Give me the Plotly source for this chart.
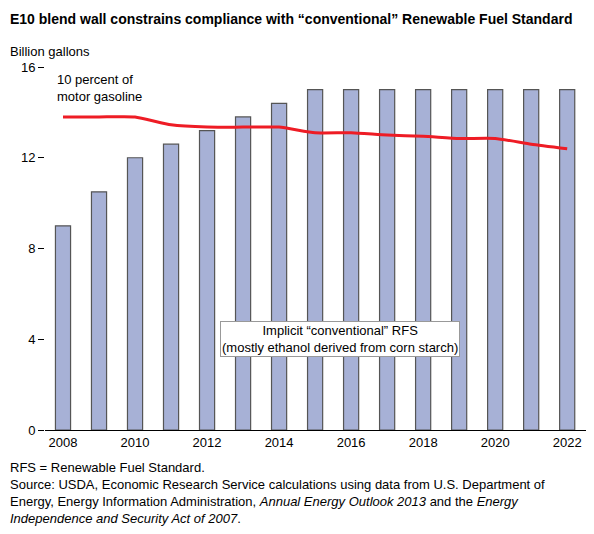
import plotly.graph_objects as go

years = list(range(2008, 2023))
rfs = [9.0, 10.5, 12.0, 12.6, 13.2, 13.8, 14.4, 15, 15, 15, 15, 15, 15, 15, 15]
blend_wall = [13.8, 13.8, 13.8, 13.45, 13.35, 13.35, 13.35, 13.1, 13.1, 13.0, 12.95, 12.85, 12.85, 12.6, 12.4]
tick_years = list(range(2008, 2023, 2))

fig = go.Figure()
fig.add_bar(x=years, y=rfs, width=0.42, marker=dict(color="#a7b1d6", line=dict(color="#555555", width=1.2)))
fig.add_scatter(x=years, y=blend_wall, mode="lines", line=dict(color="#ee1c25", width=3, shape="spline", smoothing=0.5))

F = "Liberation Sans, Arial"
fig.update_layout(
    width=594, height=534, showlegend=False, plot_bgcolor="white", paper_bgcolor="white",
    margin=dict(l=37, r=6, t=59, b=112), font=dict(family=F, size=13, color="black"),
    xaxis=dict(range=[2007.5, 2022.8], tickvals=tick_years, ticks="", showline=True, linecolor="black",
               linewidth=1, showgrid=False, zeroline=False),
    yaxis=dict(range=[0, 16], tickvals=[0, 4, 8, 12, 16], ticks="outside", ticklen=6, tickcolor="black",
               showline=False, showgrid=False, zeroline=False),
    annotations=[
        dict(text="<b>E10 blend wall constrains compliance with “conventional” Renewable Fuel Standard</b>",
             x=0, y=1, xref="paper", yref="paper", xanchor="left", yanchor="top", showarrow=False,
             font=dict(size=14), xshift=-37, yshift=58),
        dict(text="Billion gallons", x=0, y=1, xref="paper", yref="paper", xanchor="left", yanchor="bottom",
             showarrow=False, xshift=-37, yshift=6, font=dict(size=13)),
        dict(text="10 percent of<br>motor gasoline", x=2008, y=14.3, xanchor="left", yanchor="bottom",
             showarrow=False, align="left", xshift=-8, font=dict(size=13)),
        dict(text="Implicit “conventional” RFS<br>(mostly ethanol derived from corn starch)", x=2015.7, y=4,
             showarrow=False, bgcolor="white", bordercolor="#999999", borderwidth=1, font=dict(size=13)),
        dict(text="RFS = Renewable Fuel Standard.<br>Source: USDA, Economic Research Service calculations using data from U.S. Department of<br>"
                  "Energy, Energy Information Administration, <i>Annual Energy Outlook 2013</i> and the <i>Energy</i><br>"
                  "<i>Independence and Security Act of 2007</i>.",
             x=0, y=0, xref="paper", yref="paper", xanchor="left", yanchor="top", align="left",
             showarrow=False, xshift=-37, yshift=-28, font=dict(size=13)),
    ],
)
fig.write_html("out.html")
